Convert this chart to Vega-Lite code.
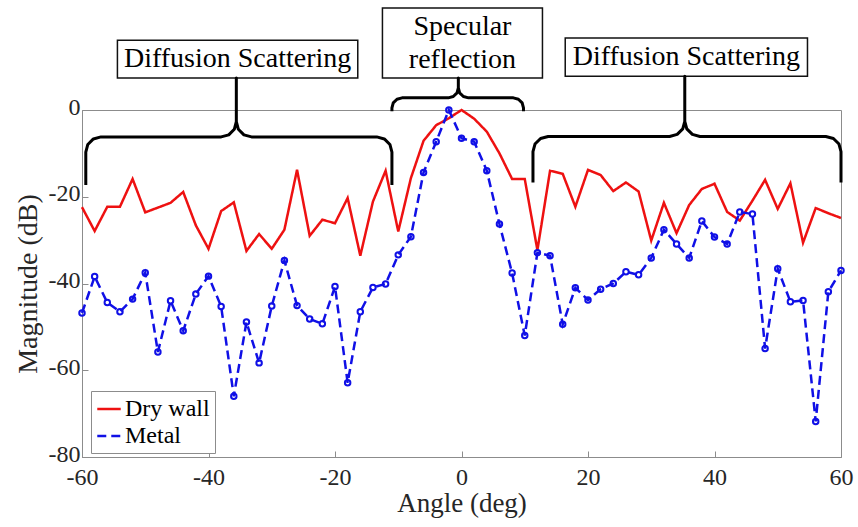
{
  "$schema": "https://vega.github.io/schema/vega-lite/v6.json",
  "autosize": "none",
  "width": 759,
  "height": 347,
  "padding": {"left": 82, "top": 110, "right": 17, "bottom": 70},
  "background": "white",
  "config": {
    "view": {"stroke": "#8c8c8c", "strokeWidth": 1},
    "font": "Liberation Serif",
    "axis": {
      "labelFont": "Liberation Serif",
      "titleFont": "Liberation Serif",
      "labelFontSize": 24,
      "titleFontSize": 27,
      "titleFontWeight": "normal",
      "labelColor": "#262626",
      "titleColor": "#262626",
      "domainColor": "#8c8c8c",
      "tickColor": "#8c8c8c",
      "grid": false,
      "tickSize": -6,
      "labelFlush": false,
      "labelExpr": "replace(datum.label, '\u2212', '-')"
    }
  },
  "datasets": {
    "series": [
      {"angle":-60,"dB":-22.4,"s":"Dry wall"},{"angle":-58,"dB":-27.9,"s":"Dry wall"},{"angle":-56,"dB":-22.3,"s":"Dry wall"},{"angle":-54,"dB":-22.3,"s":"Dry wall"},{"angle":-52,"dB":-15.9,"s":"Dry wall"},{"angle":-50,"dB":-23.6,"s":"Dry wall"},{"angle":-48,"dB":-22.5,"s":"Dry wall"},{"angle":-46,"dB":-21.4,"s":"Dry wall"},{"angle":-44,"dB":-18.9,"s":"Dry wall"},{"angle":-42,"dB":-26.6,"s":"Dry wall"},{"angle":-40,"dB":-32,"s":"Dry wall"},{"angle":-38,"dB":-23.3,"s":"Dry wall"},{"angle":-36,"dB":-21.3,"s":"Dry wall"},{"angle":-34,"dB":-32.5,"s":"Dry wall"},{"angle":-32,"dB":-28.6,"s":"Dry wall"},{"angle":-30,"dB":-32,"s":"Dry wall"},{"angle":-28,"dB":-27.6,"s":"Dry wall"},{"angle":-26,"dB":-13.8,"s":"Dry wall"},{"angle":-24,"dB":-29,"s":"Dry wall"},{"angle":-22,"dB":-25.3,"s":"Dry wall"},{"angle":-20,"dB":-26.1,"s":"Dry wall"},{"angle":-18,"dB":-20.3,"s":"Dry wall"},{"angle":-16,"dB":-33.6,"s":"Dry wall"},{"angle":-14,"dB":-21.1,"s":"Dry wall"},{"angle":-12,"dB":-14,"s":"Dry wall"},{"angle":-10,"dB":-28,"s":"Dry wall"},{"angle":-8,"dB":-15.7,"s":"Dry wall"},{"angle":-6,"dB":-7.1,"s":"Dry wall"},{"angle":-4,"dB":-3.5,"s":"Dry wall"},{"angle":-2,"dB":-1.9,"s":"Dry wall"},{"angle":0,"dB":0,"s":"Dry wall"},{"angle":2,"dB":-2,"s":"Dry wall"},{"angle":4,"dB":-5,"s":"Dry wall"},{"angle":6,"dB":-10,"s":"Dry wall"},{"angle":8,"dB":-15.9,"s":"Dry wall"},{"angle":10,"dB":-15.9,"s":"Dry wall"},{"angle":12,"dB":-32.3,"s":"Dry wall"},{"angle":14,"dB":-14,"s":"Dry wall"},{"angle":16,"dB":-14.7,"s":"Dry wall"},{"angle":18,"dB":-22.3,"s":"Dry wall"},{"angle":20,"dB":-13.8,"s":"Dry wall"},{"angle":22,"dB":-15,"s":"Dry wall"},{"angle":24,"dB":-18.7,"s":"Dry wall"},{"angle":26,"dB":-16.7,"s":"Dry wall"},{"angle":28,"dB":-18.8,"s":"Dry wall"},{"angle":30,"dB":-30.1,"s":"Dry wall"},{"angle":32,"dB":-21.4,"s":"Dry wall"},{"angle":34,"dB":-28.4,"s":"Dry wall"},{"angle":36,"dB":-21.9,"s":"Dry wall"},{"angle":38,"dB":-18.2,"s":"Dry wall"},{"angle":40,"dB":-17,"s":"Dry wall"},{"angle":42,"dB":-23.5,"s":"Dry wall"},{"angle":44,"dB":-25.5,"s":"Dry wall"},{"angle":46,"dB":-20.9,"s":"Dry wall"},{"angle":48,"dB":-16.1,"s":"Dry wall"},{"angle":50,"dB":-22.8,"s":"Dry wall"},{"angle":52,"dB":-16.9,"s":"Dry wall"},{"angle":54,"dB":-30.6,"s":"Dry wall"},{"angle":56,"dB":-22.6,"s":"Dry wall"},{"angle":58,"dB":-23.8,"s":"Dry wall"},{"angle":60,"dB":-24.9,"s":"Dry wall"},
      {"angle":-60,"dB":-46.8,"s":"Metal"},{"angle":-58,"dB":-38.4,"s":"Metal"},{"angle":-56,"dB":-44.4,"s":"Metal"},{"angle":-54,"dB":-46.5,"s":"Metal"},{"angle":-52,"dB":-43.6,"s":"Metal"},{"angle":-50,"dB":-37.5,"s":"Metal"},{"angle":-48,"dB":-55.8,"s":"Metal"},{"angle":-46,"dB":-44,"s":"Metal"},{"angle":-44,"dB":-50.9,"s":"Metal"},{"angle":-42,"dB":-42.4,"s":"Metal"},{"angle":-40,"dB":-38.3,"s":"Metal"},{"angle":-38,"dB":-45.3,"s":"Metal"},{"angle":-36,"dB":-66,"s":"Metal"},{"angle":-34,"dB":-48.9,"s":"Metal"},{"angle":-32,"dB":-58.3,"s":"Metal"},{"angle":-30,"dB":-45.2,"s":"Metal"},{"angle":-28,"dB":-34.7,"s":"Metal"},{"angle":-26,"dB":-45.1,"s":"Metal"},{"angle":-24,"dB":-48.2,"s":"Metal"},{"angle":-22,"dB":-49.3,"s":"Metal"},{"angle":-20,"dB":-40.7,"s":"Metal"},{"angle":-18,"dB":-62.9,"s":"Metal"},{"angle":-16,"dB":-46.5,"s":"Metal"},{"angle":-14,"dB":-40.9,"s":"Metal"},{"angle":-12,"dB":-40.1,"s":"Metal"},{"angle":-10,"dB":-33.4,"s":"Metal"},{"angle":-8,"dB":-29.2,"s":"Metal"},{"angle":-6,"dB":-14.4,"s":"Metal"},{"angle":-4,"dB":-7.3,"s":"Metal"},{"angle":-2,"dB":0,"s":"Metal"},{"angle":0,"dB":-6.5,"s":"Metal"},{"angle":2,"dB":-7.3,"s":"Metal"},{"angle":4,"dB":-14,"s":"Metal"},{"angle":6,"dB":-26.3,"s":"Metal"},{"angle":8,"dB":-37.6,"s":"Metal"},{"angle":10,"dB":-52,"s":"Metal"},{"angle":12,"dB":-32.9,"s":"Metal"},{"angle":14,"dB":-33.6,"s":"Metal"},{"angle":16,"dB":-49.4,"s":"Metal"},{"angle":18,"dB":-41,"s":"Metal"},{"angle":20,"dB":-43.8,"s":"Metal"},{"angle":22,"dB":-41.3,"s":"Metal"},{"angle":24,"dB":-40,"s":"Metal"},{"angle":26,"dB":-37.3,"s":"Metal"},{"angle":28,"dB":-38,"s":"Metal"},{"angle":30,"dB":-34.1,"s":"Metal"},{"angle":32,"dB":-27.6,"s":"Metal"},{"angle":34,"dB":-30.9,"s":"Metal"},{"angle":36,"dB":-34.1,"s":"Metal"},{"angle":38,"dB":-25.6,"s":"Metal"},{"angle":40,"dB":-29.3,"s":"Metal"},{"angle":42,"dB":-30.9,"s":"Metal"},{"angle":44,"dB":-23.5,"s":"Metal"},{"angle":46,"dB":-24,"s":"Metal"},{"angle":48,"dB":-55,"s":"Metal"},{"angle":50,"dB":-36.6,"s":"Metal"},{"angle":52,"dB":-44.2,"s":"Metal"},{"angle":54,"dB":-43.9,"s":"Metal"},{"angle":56,"dB":-71.8,"s":"Metal"},{"angle":58,"dB":-41.9,"s":"Metal"},{"angle":60,"dB":-37,"s":"Metal"}
    ],
    "braces": [
      {"b":"L","o":1,"angle":-59.4,"dB":-17.3},{"b":"L","o":2,"angle":-59.4,"dB":-9.7},{"b":"L","o":3,"angle":-59.08,"dB":-7.95},{"b":"L","o":4,"angle":-58.2,"dB":-6.67},{"b":"L","o":5,"angle":-57.0,"dB":-6.2},{"b":"L","o":6,"angle":-38.0,"dB":-6.2},{"b":"L","o":7,"angle":-36.8,"dB":-5.73},{"b":"L","o":8,"angle":-35.92,"dB":-4.45},{"b":"L","o":9,"angle":-35.6,"dB":-2.7},{"b":"L","o":10,"angle":-35.6,"dB":7.4},{"b":"L","o":11,"angle":-35.6,"dB":-2.7},{"b":"L","o":12,"angle":-35.28,"dB":-4.45},{"b":"L","o":13,"angle":-34.4,"dB":-5.73},{"b":"L","o":14,"angle":-33.2,"dB":-6.2},{"b":"L","o":15,"angle":-13.4,"dB":-6.2},{"b":"L","o":16,"angle":-12.2,"dB":-6.67},{"b":"L","o":17,"angle":-11.32,"dB":-7.95},{"b":"L","o":18,"angle":-11.0,"dB":-9.7},{"b":"L","o":19,"angle":-11.0,"dB":-17.3},
      {"b":"R","o":1,"angle":11.3,"dB":-16.7},{"b":"R","o":2,"angle":11.3,"dB":-9.6},{"b":"R","o":3,"angle":11.62,"dB":-7.85},{"b":"R","o":4,"angle":12.5,"dB":-6.57},{"b":"R","o":5,"angle":13.7,"dB":-6.1},{"b":"R","o":6,"angle":32.9,"dB":-6.1},{"b":"R","o":7,"angle":34.1,"dB":-5.63},{"b":"R","o":8,"angle":34.98,"dB":-4.35},{"b":"R","o":9,"angle":35.3,"dB":-2.6},{"b":"R","o":10,"angle":35.3,"dB":7.8},{"b":"R","o":11,"angle":35.3,"dB":-2.6},{"b":"R","o":12,"angle":35.62,"dB":-4.35},{"b":"R","o":13,"angle":36.5,"dB":-5.63},{"b":"R","o":14,"angle":37.7,"dB":-6.1},{"b":"R","o":15,"angle":57.6,"dB":-6.1},{"b":"R","o":16,"angle":58.8,"dB":-6.57},{"b":"R","o":17,"angle":59.68,"dB":-7.85},{"b":"R","o":18,"angle":60,"dB":-9.6},{"b":"R","o":19,"angle":60,"dB":-16.7},
      {"b":"S","o":1,"angle":-11.0,"dB":-0.3},{"b":"S","o":2,"angle":-11.0,"dB":0.5},{"b":"S","o":3,"angle":-10.79,"dB":1.65},{"b":"S","o":4,"angle":-10.2,"dB":2.49},{"b":"S","o":5,"angle":-9.4,"dB":2.8},{"b":"S","o":6,"angle":-2.1,"dB":2.8},{"b":"S","o":7,"angle":-1.3,"dB":3.11},{"b":"S","o":8,"angle":-0.71,"dB":3.95},{"b":"S","o":9,"angle":-0.5,"dB":5.1},{"b":"S","o":10,"angle":-0.5,"dB":7.4},{"b":"S","o":11,"angle":-0.5,"dB":5.1},{"b":"S","o":12,"angle":-0.29,"dB":3.95},{"b":"S","o":13,"angle":0.3,"dB":3.11},{"b":"S","o":14,"angle":1.1,"dB":2.8},{"b":"S","o":15,"angle":8.2,"dB":2.8},{"b":"S","o":16,"angle":9.0,"dB":2.49},{"b":"S","o":17,"angle":9.59,"dB":1.65},{"b":"S","o":18,"angle":9.8,"dB":0.5},{"b":"S","o":19,"angle":9.8,"dB":-0.3}
    ],
    "boxes": [
      {"angle":-54.4,"angle2":-16.4,"dB":16.1,"dB2":7.4},
      {"angle":-12.5,"angle2":12.8,"dB":23.5,"dB2":7.4},
      {"angle":16.4,"angle2":54.7,"dB":16.6,"dB2":7.8}
    ],
    "labels": [
      {"angle":-35.4,"dB":11.7,"label":"Diffusion Scattering"},
      {"angle":0.15,"dB":19.2,"label":"Specular"},
      {"angle":0.15,"dB":11.6,"label":"reflection"},
      {"angle":35.55,"dB":12.2,"label":"Diffusion Scattering"}
    ]
  },
  "encoding": {
    "x": {"field": "angle", "type": "quantitative",
      "scale": {"domain": [-60, 60], "nice": false, "zero": false},
      "axis": {"values": [-60, -40, -20, 0, 20, 40, 60], "title": "Angle (deg)", "titlePadding": 1, "labelPadding": 14}},
    "y": {"field": "dB", "type": "quantitative",
      "scale": {"domain": [-80, 0], "nice": false, "zero": false},
      "axis": {"values": [-80, -60, -40, -20, 0], "title": "Magnitude (dB)", "titlePadding": 6, "labelPadding": 8, "labelOffset": -3, "titleFontSize": 28}}
  },
  "layer": [
    {
      "data": {"name": "series"},
      "mark": {"type": "line", "strokeWidth": 2.5},
      "encoding": {
        "color": {"field": "s", "type": "nominal",
          "scale": {"domain": ["Dry wall", "Metal"], "range": ["#ee1111", "#1010e6"]},
          "legend": {"title": null, "orient": "none", "legendX": 9, "legendY": 281,
            "labelFont": "Liberation Serif", "labelFontSize": 24, "labelColor": "#000000",
            "strokeColor": "#8c8c8c", "fillColor": "white", "padding": 5,
            "symbolType": "stroke", "symbolSize": 550, "symbolStrokeWidth": 2.5, "rowPadding": 2, "labelOffset": 3}},
        "strokeDash": {"field": "s", "type": "nominal",
          "scale": {"domain": ["Dry wall", "Metal"], "range": [[1, 0], [9, 5]]},
          "legend": null}
      }
    },
    {
      "data": {"name": "series"},
      "transform": [{"filter": "datum.s === 'Metal'"}],
      "mark": {"type": "point", "filled": false, "size": 30, "strokeWidth": 2, "color": "#1010e6", "opacity": 1}
    },
    {
      "data": {"name": "boxes"},
      "mark": {"type": "rect", "fill": "white", "stroke": "#111111", "strokeWidth": 1.5},
      "encoding": {"x2": {"field": "angle2"}, "y2": {"field": "dB2"}}
    },
    {
      "data": {"name": "labels"},
      "mark": {"type": "text", "font": "Liberation Serif", "fontSize": 28, "color": "#000000", "baseline": "middle", "align": "center"},
      "encoding": {"text": {"field": "label"}}
    },
    {
      "data": {"name": "braces"},
      "mark": {"type": "line", "color": "#000000", "strokeWidth": 3, "strokeJoin": "round"},
      "encoding": {"detail": {"field": "b"}, "order": {"field": "o", "type": "quantitative"}}
    }
  ]
}
